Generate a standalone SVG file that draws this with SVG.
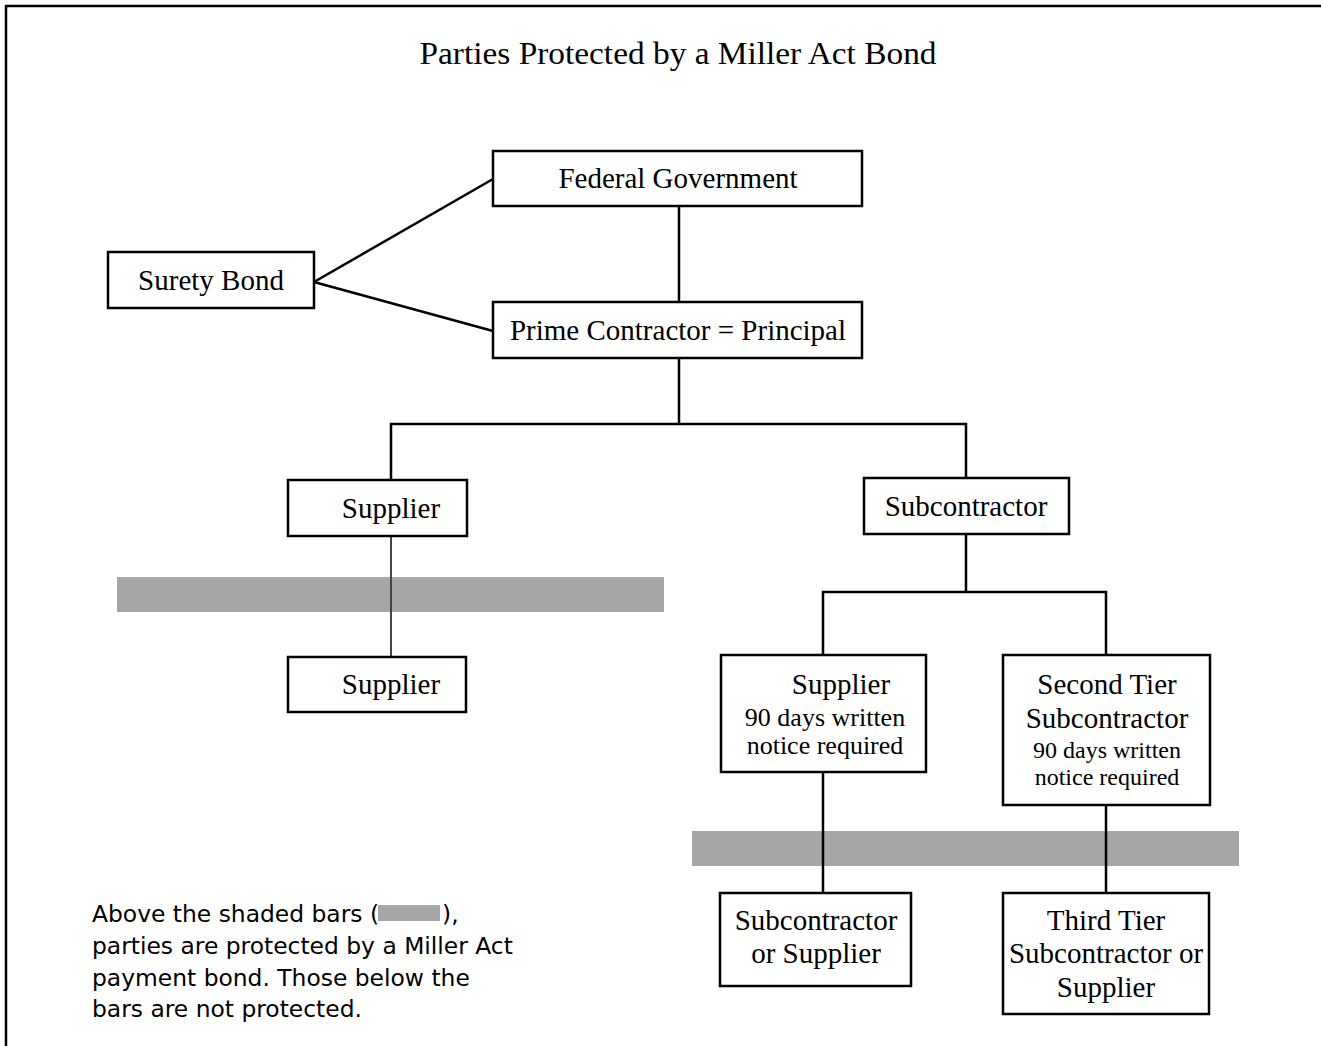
<svg xmlns="http://www.w3.org/2000/svg" width="1321" height="1046" viewBox="0 0 1321 1046">
<style>
.box{fill:#fff;stroke:#000;stroke-width:2.5}
.t{font-family:"Liberation Serif","Times New Roman",serif;font-size:29px;fill:#000;text-anchor:middle}
.s{font-size:26px}
.s2{font-size:24px}
.c{stroke:#000;stroke-width:2.5;fill:none}
.bar{fill:#a6a6a6}
.note{font-family:"DejaVu Sans",Verdana,sans-serif;font-size:23.4px;fill:#000}
</style>
<rect x="0" y="0" width="1321" height="1046" fill="#fff"/>
<rect x="6" y="6" width="1330" height="1060" fill="none" stroke="#000" stroke-width="2.5"/>
<text x="678" y="64" font-family="Liberation Serif, serif" font-size="32" text-anchor="middle" textLength="517" lengthAdjust="spacingAndGlyphs">Parties Protected by a Miller Act Bond</text>

<g id="bars">
<rect class="bar" x="117" y="577" width="547" height="35"/>
<rect class="bar" x="692" y="831" width="547" height="35"/>
</g>

<g id="connectors">
<line class="c" x1="314" y1="282" x2="493" y2="179"/>
<line class="c" x1="314" y1="282" x2="493" y2="331"/>
<line class="c" x1="679" y1="206" x2="679" y2="302"/>
<polyline class="c" points="679,358 679,424"/>
<polyline class="c" points="391,480 391,424 966,424 966,478"/>
<line x1="391" y1="536" x2="391" y2="657" stroke="#444" stroke-width="2"/>
<polyline class="c" points="966,534 966,592"/>
<polyline class="c" points="823,655 823,592 1106,592 1106,655"/>
<line class="c" x1="823" y1="772" x2="823" y2="893"/>
<line class="c" x1="1106" y1="805" x2="1106" y2="893"/>
</g>

<g id="federal">
<rect class="box" x="493" y="151" width="369" height="55"/>
<text class="t" x="678" y="188">Federal Government</text>
</g>
<g id="prime">
<rect class="box" x="493" y="302" width="369" height="56"/>
<text class="t" x="678" y="340">Prime Contractor = Principal</text>
</g>
<g id="surety">
<rect class="box" x="108" y="252" width="206" height="56"/>
<text class="t" x="211" y="290">Surety Bond</text>
</g>
<g id="supplier1">
<rect class="box" x="288" y="480" width="179" height="56"/>
<text class="t" x="391" y="518">Supplier</text>
</g>
<g id="subcontractor">
<rect class="box" x="864" y="478" width="205" height="56"/>
<text class="t" x="966" y="516">Subcontractor</text>
</g>
<g id="supplier2">
<rect class="box" x="288" y="657" width="178" height="55"/>
<text class="t" x="391" y="694">Supplier</text>
</g>
<g id="supplier3">
<rect class="box" x="721" y="655" width="205" height="117"/>
<text class="t" x="841" y="694">Supplier</text>
<text class="t s" x="825" y="726">90 days written</text>
<text class="t s" x="825" y="754">notice required</text>
</g>
<g id="secondtier">
<rect class="box" x="1003" y="655" width="207" height="150"/>
<text class="t" x="1107" y="694">Second Tier</text>
<text class="t" x="1107" y="728">Subcontractor</text>
<text class="t s2" x="1107" y="758">90 days written</text>
<text class="t s2" x="1107" y="785">notice required</text>
</g>
<g id="subsupplier">
<rect class="box" x="720" y="893" width="191" height="93"/>
<text class="t" x="816" y="930">Subcontractor</text>
<text class="t" x="816" y="963">or Supplier</text>
</g>
<g id="thirdtier">
<rect class="box" x="1003" y="893" width="206" height="121"/>
<text class="t" x="1106" y="930">Third Tier</text>
<text class="t" x="1106" y="963">Subcontractor or</text>
<text class="t" x="1106" y="997">Supplier</text>
</g>

<g id="legend">
<text class="note" x="92" y="922">Above the shaded bars (</text>
<rect class="bar" x="378" y="905" width="62" height="16"/>
<text class="note" x="442" y="922">),</text>
<text class="note" x="92" y="954">parties are protected by a Miller Act</text>
<text class="note" x="92" y="986">payment bond. Those below the</text>
<text class="note" x="92" y="1017">bars are not protected.</text>
</g>
</svg>
